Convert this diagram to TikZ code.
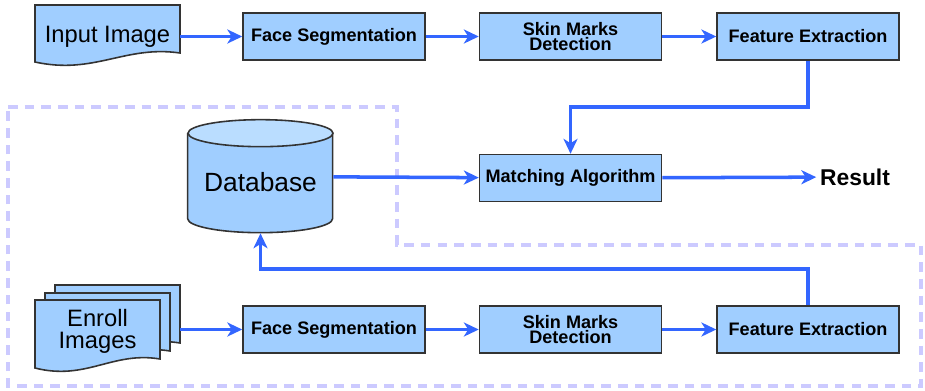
\documentclass[tikz,border=0pt]{standalone}
\usepackage{fontspec}
\setmainfont{Liberation Sans}
\usetikzlibrary{arrows.meta,positioning,calc}
\definecolor{boxblue}{RGB}{160,206,255}
\definecolor{topblue}{RGB}{186,221,255}
\definecolor{linkblue}{RGB}{51,102,255}
\definecolor{frameviolet}{RGB}{204,202,255}
\newcommand{\myBoxColor}{boxblue}
\newcommand{\docSheet}[4]{%
  \filldraw[Doc] (#1,#2) -- (#3,#2) -- (#3,#4)
    .. controls ({#3-0.38*(#3-#1)},{#4-8}) and ({#3-0.59*(#3-#1)},{#4+22}) .. (#1,{#4+9}) -- cycle;}

\begin{document}
\begin{tikzpicture}[x=0.02cm,y=-0.02cm,node distance=1.06cm,
	Edge/.style={-{Stealth[length=8.5pt,width=8pt,inset=2.5pt]},linkblue,line width=2pt},
	Box/.style={rectangle,fill=\myBoxColor,draw=black!80,line width=0.9pt,minimum width=3.64cm,minimum height=0.94cm,inner sep=1pt,align=center,font=\fontsize{10.3}{9}\selectfont\bfseries},
	Doc/.style={fill=\myBoxColor,draw=black!80,line width=0.9pt},
	Big/.style={rectangle,minimum width=2.9cm,inner sep=0pt,align=center,font=\fontsize{13.5}{12.5}\selectfont},
	Frame/.style={frameviolet,line width=2.1pt,dash pattern=on 5.5pt off 4pt},
]
	\useasboundingbox (0,0) rectangle (925,390);
	\draw[Frame] (8,107) -- (397,107) -- (397,245) -- (921,245) -- (921,386) -- (8,386) -- cycle;

	% input and enroll sheets
	\docSheet{35}{5}{180}{53}
	\docSheet{55}{285}{180}{343}
	\docSheet{45}{293}{170}{351}
	\docSheet{35}{300}{160}{359}

	\node[Big,minimum height=0.96cm] (In) at (107.5,36.5) {Input Image};
	\node[Big,minimum width=2.5cm,minimum height=1.18cm] (En) at (97.5,331) {Enroll\\Images};

	% database
	\node[Big,minimum height=2.26cm] (DB) at (260.5,176.5) {};
	\filldraw[Doc] (DB.north west) ++(0,13.5) -- ++(0,85.5)
		arc[start angle=180,end angle=360,x radius=1.45cm,y radius=0.28cm] -- ++(0,-85.5);
	\filldraw[Doc,fill=topblue] ($(DB.north)+(0,13.5)$) ellipse[x radius=1.45cm,y radius=0.27cm];
	\node[font=\fontsize{15}{16}\selectfont,text height=17pt,text depth=0pt] at (DB) {Database};

	\node[Box] (FSa) at (334,36.5) {Face Segmentation};
	\node[Box] (SMa) [right=1.06cm of FSa] {Skin Marks\\Detection};
	\node[Box] (FEa) [right=1.08cm of SMa] {Feature Extraction};
	\node[Box] (MA) [below=1.86cm of SMa] {Matching Algorithm};
	\node[font=\fontsize{13}{15}\selectfont\bfseries,inner sep=2pt] (Res) at (855,177) {Result};

	\node[Box] (FSb) at (334,329.5) {Face Segmentation};
	\node[Box] (SMb) [right=1.06cm of FSb] {Skin Marks\\Detection};
	\node[Box] (FEb) [right=1.08cm of SMb] {Feature Extraction};

	\path[Edge]
	(In) edge (FSa)
	(FSa) edge (SMa)
	(SMa) edge (FEa)
	(DB) edge (MA)
	(MA) edge (Res)
	([xshift=0.4cm]En.east |- FSb) edge (FSb)
	(FSb) edge (SMb)
	(SMb) edge (FEb)
	;
	\draw[Edge] (FEa.south) -- ++(0,46) -| (MA.north);
	\draw[Edge] (FEb.north) -- ++(0,-36) -| (DB.south);
\end{tikzpicture}
\end{document}
